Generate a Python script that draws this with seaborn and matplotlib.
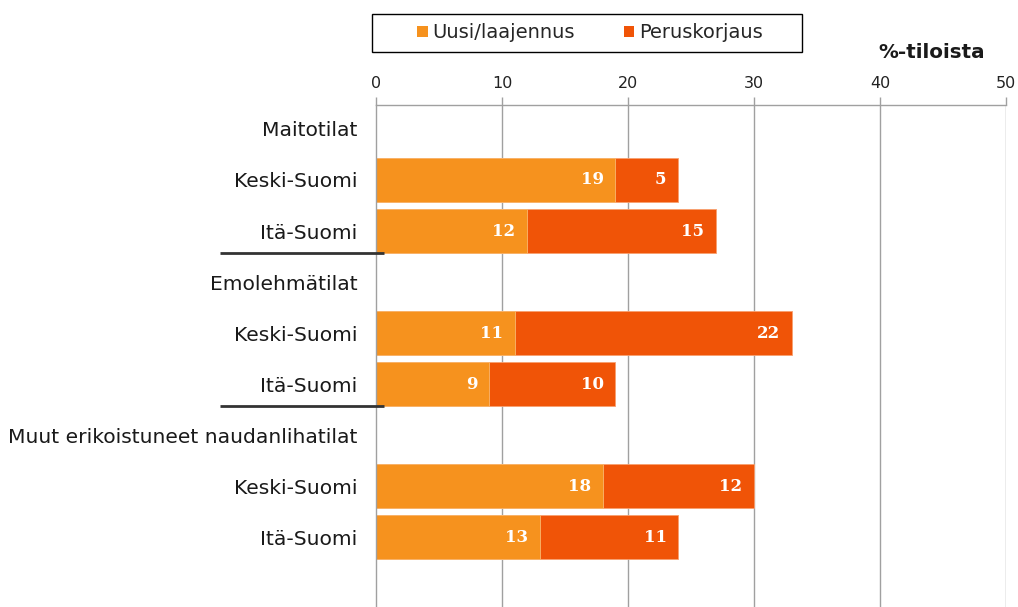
import matplotlib
matplotlib.use("Agg")
import matplotlib.pyplot as plt
import seaborn as sns
import pandas as pd
import numpy as np
from matplotlib.patches import Patch, Rectangle

sns.set_theme(style="white")
plt.rcParams["font.family"] = ["DejaVu Sans"]

# Data
groups = ["Maitotilat", "Emolehmätilat", "Muut erikoistuneet naudanlihatilat"]
regions = ["Keski-Suomi", "Itä-Suomi"]
uusi = [19, 12, 11, 9, 18, 13]          # Uusi/laajennus
perus = [5, 15, 22, 10, 12, 11]         # Peruskorjaus
series_names = ["Uusi/laajennus", "Peruskorjaus"]
xticks = [0, 10, 20, 30, 40, 50]
unit_label = "%-tiloista"

c_uusi = "#F6921E"
c_perus = "#F05407"

# Build rows: group header followed by its regions
keys, labels, u_vals, p_vals = [], [], [], []
i = 0
for g in groups:
    keys.append(g)
    labels.append(g)
    u_vals.append(np.nan)
    p_vals.append(np.nan)
    for r in regions:
        keys.append(f"{g}|{r}")
        labels.append(r)
        u_vals.append(uusi[i])
        p_vals.append(perus[i])
        i += 1

df = pd.DataFrame({"key": keys, "label": labels, "uusi": u_vals, "perus": p_vals})
df["total"] = df["uusi"] + df["perus"]

W, H = 1018, 607
fig = plt.figure(figsize=(W / 100, H / 100), dpi=100)
ax = fig.add_axes([376 / W, 0.0, 630 / W, 1 - 105 / H])

bar_w = 0.86
sns.barplot(data=df, y="key", x="total", order=keys, orient="h", color=c_perus,
            saturation=1, width=bar_w, ax=ax, edgecolor="#F8A070", linewidth=0.6)
sns.barplot(data=df, y="key", x="uusi", order=keys, orient="h", color=c_uusi,
            saturation=1, width=bar_w, ax=ax, edgecolor="#F9B870", linewidth=0.6)

ax.set_xlim(0, 50)
ax.set_ylim(9.37, -0.47)
ax.set_xlabel("")
ax.set_ylabel("")
ax.set_xticks(xticks)
ax.set_xticklabels([str(t) for t in xticks])
ax.xaxis.tick_top()
ax.tick_params(axis="x", which="major", length=6, width=1, color="#A0A0A0",
               labelsize=11.5, labelcolor="#222222", pad=4, direction="out", top=True)
ax.set_yticks(range(len(keys)))
ax.set_yticklabels(labels)
ax.tick_params(axis="y", length=0, labelsize=14.6, labelcolor="#1a1a1a", pad=13.5)

for s in ["right", "bottom"]:
    ax.spines[s].set_visible(False)
for s in ["top", "left"]:
    ax.spines[s].set_color("#A0A0A0")
    ax.spines[s].set_linewidth(1)

for t in xticks[1:]:
    ax.axvline(t, color="#A0A0A0", lw=1, zorder=0)

# Value labels inside each segment, right aligned at the segment end
for idx, row in df.iterrows():
    if np.isnan(row["uusi"]):
        continue
    ax.annotate(f"{int(row['uusi'])}", xy=(row["uusi"], idx), xytext=(-8.5, 0),
                textcoords="offset points", ha="right", va="center",
                color="white", fontsize=12, fontweight="bold", family="DejaVu Serif")
    ax.annotate(f"{int(row['perus'])}", xy=(row["total"], idx), xytext=(-8.5, 0),
                textcoords="offset points", ha="right", va="center",
                color="white", fontsize=12, fontweight="bold", family="DejaVu Serif")

# Group separators under each group's last region
for yy in [2.43, 5.43]:
    ax.plot([-12.4, 0.65], [yy, yy], color="#333333", lw=2, clip_on=False,
            solid_capstyle="butt", zorder=5)

# Legend with a plain rectangular frame
fig.patches.append(Rectangle((372 / W, 1 - 52 / H), 430 / W, 38 / H,
                             transform=fig.transFigure, facecolor="white",
                             edgecolor="black", linewidth=1, zorder=1))
handles = [Patch(facecolor=c_uusi, edgecolor="none"),
           Patch(facecolor=c_perus, edgecolor="none")]
leg = fig.legend(handles, series_names, loc="center",
                 bbox_to_anchor=(590 / W, 1 - 33 / H), ncol=2, frameon=False,
                 fontsize=14, handlelength=0.55, handleheight=0.55,
                 handletextpad=0.25, columnspacing=2.5, borderpad=0,
                 borderaxespad=0)
leg.set_zorder(2)

fig.text(985 / W, 1 - 53 / H, unit_label, ha="right", va="center",
         fontsize=14.3, fontweight="bold", color="#1a1a1a")

fig.savefig("out.png", dpi=100)
